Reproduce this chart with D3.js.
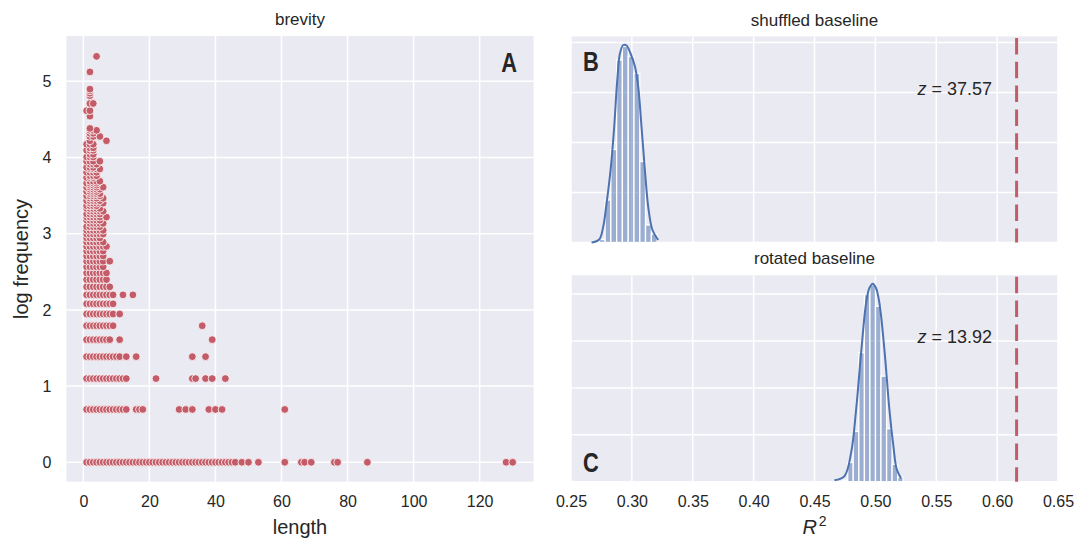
<!DOCTYPE html>
<html>
<head>
<meta charset="utf-8">
<script src="https://cdn.jsdelivr.net/npm/d3@7"></script>
<style>
  body { margin: 0; background: #fff; }
  text { font-family: "Liberation Sans", Arial, sans-serif; fill: #262626; }
</style>
</head>
<body>
<svg id="chart" width="1089" height="539"></svg>
<script>
// --- data ---

// panel A: every (length, frequency) pair, grouped by frequency count
const freqCounts = [1, 2, 3, 4, 5, 6, 7, 8, 9, 10, 11, 12, 13, 14, 15, 16, 17, 18, 19, 20,
  21, 22, 23, 24, 25, 26, 27, 28, 29, 30, 31, 32, 33, 34, 35, 36, 37, 38, 39, 40,
  42, 43, 45, 47, 48, 50, 52, 55, 57, 60, 62, 65, 68, 72, 75, 78, 80, 94, 101, 111,
  123, 127, 131, 134, 168, 206]
const lengthsByCount = [
  [1, 2, 3, 4, 5, 6, 7, 8, 9, 10, 11, 12, 13, 14, 15, 16, 17, 18, 19, 20, 21, 22, 23, 24, 25,
   26, 27, 28, 29, 30, 31, 32, 33, 34, 35, 36, 37, 38, 39, 40, 41, 42, 43, 44, 45, 46, 48, 50,
   53, 61, 66, 67, 69, 76, 77, 86, 128, 130],
  [1, 2, 3, 4, 5, 6, 7, 8, 9, 10, 11, 12, 13, 16, 17, 18, 29, 31, 33, 38, 40, 42, 61],
  [1, 2, 3, 4, 5, 6, 7, 8, 9, 10, 11, 12, 13, 22, 33, 34, 37, 39, 43],
  [1, 2, 3, 4, 5, 6, 7, 8, 9, 10, 11, 13, 16, 33, 37],
  [1, 2, 3, 4, 5, 6, 7, 8, 11, 39],
  [1, 2, 3, 4, 5, 6, 7, 8, 9, 36],
  [1, 2, 3, 4, 5, 6, 7, 8, 9, 11],
  [1, 2, 3, 4, 5, 6, 7, 8, 9],
  [1, 2, 3, 4, 5, 6, 7, 8, 9, 12, 15],
  [1, 2, 3, 4, 5, 6, 7, 8],
  [1, 2, 3, 4, 5, 6, 7],
  [1, 2, 3, 4, 5, 6, 7],
  [1, 2, 3, 4, 5, 6],
  [1, 2, 3, 4, 5, 6, 8],
  [1, 2, 3, 4, 5, 6],
  [1, 2, 3, 4, 5, 6],
  [1, 2, 3, 4, 5, 6, 7],
  [1, 2, 3, 4, 5, 6],
  [1, 2, 3, 4, 5],
  [1, 2, 3, 4, 5, 6],
  [1, 2, 3, 4, 5, 6],
  [1, 2, 3, 4, 5],
  [2, 3, 4, 5, 6],
  [1, 2, 3, 4, 5],
  [1, 2, 3, 4, 5, 7],
  [1, 2, 3, 4, 5],
  [2, 3, 4, 5, 6],
  [1, 2, 3, 4, 5],
  [1, 2, 3, 4],
  [2, 3, 4, 5, 6],
  [1, 2, 3, 4, 5],
  [2, 3, 4, 6],
  [1, 2, 3, 4, 5],
  [2, 3, 4, 5],
  [1, 2, 3, 4],
  [2, 3, 4, 5],
  [1, 2, 3, 4, 6],
  [2, 3, 4],
  [1, 2, 3, 4],
  [2, 3, 4, 5],
  [1, 2, 3],
  [2, 3, 4],
  [1, 2, 3, 4],
  [2, 3, 4, 5],
  [1, 2, 3],
  [2, 3, 4],
  [1, 2, 3, 5],
  [1, 2, 3],
  [2, 3],
  [1, 2, 3],
  [2, 3],
  [1, 2, 3],
  [2, 7],
  [2, 3, 5],
  [2, 3],
  [2, 3, 4],
  [2],
  [2],
  [1, 2],
  [2, 3],
  [2],
  [2],
  [2],
  [2],
  [2],
  [4]
]
const lengthTicks = [0, 20, 40, 60, 80, 100, 120]
const logFreqTicks = [0, 1, 2, 3, 4, 5]

// panels B and C: R^2 of the baselines (histogram density + kde)
const shuffledBinEdges = [0.2732, 0.2780, 0.2827, 0.2875, 0.2922, 0.2970, 0.3017, 0.3065, 0.3112, 0.3160, 0.3207]
const shuffledDensity = [0.6, 8.5, 18.6, 36.5, 39.2, 37.2, 33.8, 16.2, 3.5, 1.7]
const shuffledKdeX = [0.2669, 0.2732, 0.2765, 0.2792, 0.2825, 0.2853, 0.2880, 0.2902, 0.2929, 0.2956,
  0.2989, 0.3025, 0.3052, 0.3079, 0.3107, 0.3134, 0.3169, 0.3216]
const shuffledKdeY = [0.0, 0.6, 3.2, 7.8, 14.5, 22.5, 32.5, 37.8, 39.5, 39.4, 37.8, 35.2, 31.2, 23.2, 14.5, 7.2, 2.5, 0.5]

const rotatedBinEdges = [0.4727, 0.4773, 0.4818, 0.4864, 0.4910, 0.4955, 0.5001, 0.5046, 0.5092, 0.5137, 0.5183, 0.5228]
const rotatedDensity = [0.3, 4.1, 10.7, 27.5, 39.9, 42.0, 37.4, 22.5, 11.3, 3.7, 0.9]
const rotatedKdeX = [0.4664, 0.4746, 0.4801, 0.4842, 0.4883, 0.4924, 0.4951, 0.4978, 0.5005, 0.5033,
  0.5074, 0.5115, 0.5148, 0.5175, 0.5211]
const rotatedKdeY = [0.3, 1.2, 6.2, 15.4, 27.5, 38.1, 41.3, 42.2, 41.3, 38.1, 28.2, 15.4, 7.6, 2.7, 0.7]

const observedR2 = 0.616
const zScores = [37.57, 13.92]
const r2Ticks = [0.25, 0.30, 0.35, 0.40, 0.45, 0.50, 0.55, 0.60, 0.65]
const densityTicks = [0, 10, 20, 30, 40]

// --- drawing ---
const red = "#C35C68"
const blue = "#4C72B0"
const bg = "#EAEAF2"
const tickColor = "#444"

const svg = d3.select("#chart")

function drawGrid(g, x, y, xTicks, yTicks) {
    const [x0, x1] = x.range()
    const [y0, y1] = y.range()
    g.append("rect")
        .attr("x", x0).attr("y", y1)
        .attr("width", x1 - x0).attr("height", y0 - y1)
        .attr("fill", bg)
    g.selectAll(".vgrid").data(xTicks).enter().append("line")
        .attr("x1", d => x(d)).attr("x2", d => x(d))
        .attr("y1", y1).attr("y2", y0)
        .attr("stroke", "#fff").attr("stroke-width", 1.5)
    g.selectAll(".hgrid").data(yTicks).enter().append("line")
        .attr("x1", x0).attr("x2", x1)
        .attr("y1", d => y(d)).attr("y2", d => y(d))
        .attr("stroke", "#fff").attr("stroke-width", 1.5)
}

function tidyAxis(g) {
    g.select(".domain").remove()
    g.selectAll("text").attr("font-size", 16).attr("fill", tickColor)
        .attr("font-family", "Liberation Sans, Arial, sans-serif")
}

// bold panel letter, squeezed to look like a condensed face
function panelLetter(x, y, anchor, letter) {
    svg.append("text")
        .attr("transform", "translate(" + x + "," + y + ") scale(0.78,1)")
        .attr("text-anchor", anchor)
        .attr("font-weight", "bold").attr("font-size", 28).attr("fill", "#1a1a1a")
        .text(letter)
}

// panel A: brevity scatter
const xLen = d3.scaleLinear().domain([-5.1, 136.3]).range([66.5, 533.5])
const yLog = d3.scaleLinear().domain([-0.255, 5.595]).range([481.7, 36])

const gA = svg.append("g")
drawGrid(gA, xLen, yLog, lengthTicks, logFreqTicks)

const points = []
freqCounts.forEach((c, i) => {
    lengthsByCount[i].forEach(len => points.push({len: len, logf: Math.log(c)}))
})

gA.selectAll("circle").data(points).enter().append("circle")
    .attr("cx", d => xLen(d.len))
    .attr("cy", d => yLog(d.logf))
    .attr("r", 3.9)
    .attr("fill", red)
    .attr("stroke", "#fff")
    .attr("stroke-width", 0.8)

gA.append("g")
    .attr("transform", "translate(0,481.7)")
    .call(d3.axisBottom(xLen).tickValues(lengthTicks).tickSize(0).tickPadding(14).tickFormat(d3.format("d")))
    .call(tidyAxis)
gA.append("g")
    .attr("transform", "translate(66.5,0)")
    .call(d3.axisLeft(yLog).tickValues(logFreqTicks).tickSize(0).tickPadding(15).tickFormat(d3.format("d")))
    .call(tidyAxis)

gA.append("text").attr("x", 300).attr("y", 25).attr("text-anchor", "middle")
    .attr("font-size", 17).text("brevity")
gA.append("text").attr("x", 300).attr("y", 534).attr("text-anchor", "middle")
    .attr("font-size", 20).text("length")
gA.append("text").attr("transform", "translate(28,259) rotate(-90)")
    .attr("text-anchor", "middle").attr("font-size", 20).text("log frequency")
panelLetter(517, 72, "end", "A")

// panels B and C: baselines
const xR = d3.scaleLinear().domain([0.25, 0.65]).range([571, 1058])

const panels = [
    {title: "shuffled baseline", letter: "B", top: 36.5, bottom: 242.5, ymax: 41.2,
     edges: shuffledBinEdges, dens: shuffledDensity, kx: shuffledKdeX, ky: shuffledKdeY,
     z: zScores[0], letterY: 71},
    {title: "rotated baseline", letter: "C", top: 275.3, bottom: 481.7, ymax: 44.0,
     edges: rotatedBinEdges, dens: rotatedDensity, kx: rotatedKdeX, ky: rotatedKdeY,
     z: zScores[1], letterY: 472}
]

panels.forEach(p => {
    const y = d3.scaleLinear().domain([0, p.ymax]).range([p.bottom, p.top])
    const g = svg.append("g")
    drawGrid(g, xR, y, r2Ticks, densityTicks)

    g.selectAll(".bar").data(p.dens).enter().append("rect")
        .attr("x", (d, i) => xR(p.edges[i]))
        .attr("width", (d, i) => xR(p.edges[i + 1]) - xR(p.edges[i]))
        .attr("y", d => y(d))
        .attr("height", d => y(0) - y(d))
        .attr("fill", blue).attr("fill-opacity", 0.5)
        .attr("stroke", "#fff").attr("stroke-width", 1.3)

    const kde = p.kx.map((v, i) => [v, p.ky[i]])
    g.append("path")
        .datum(kde)
        .attr("fill", "none")
        .attr("stroke", blue)
        .attr("stroke-width", 2)
        .attr("d", d3.line().x(d => xR(d[0])).y(d => y(d[1])).curve(d3.curveCatmullRom))

    g.append("line")
        .attr("x1", xR(observedR2)).attr("x2", xR(observedR2))
        .attr("y1", p.top + 1.5).attr("y2", p.bottom)
        .attr("stroke", red).attr("stroke-width", 3)
        .attr("stroke-dasharray", "16.5,7.3")

    const zt = g.append("text").attr("x", xR(0.5345)).attr("y", y(29.5))
        .attr("font-family", "DejaVu Sans, sans-serif").attr("font-size", 18).attr("fill", "#3a3a3a")
    zt.append("tspan").attr("font-style", "italic").text("z")
    zt.append("tspan").text(" = " + p.z.toFixed(2))

    g.append("text").attr("x", 814.5).attr("y", p.top - 11).attr("text-anchor", "middle")
        .attr("font-size", 17).text(p.title)
    panelLetter(583, p.letterY, "start", p.letter)
})

svg.append("g")
    .attr("transform", "translate(0,481.7)")
    .call(d3.axisBottom(xR).tickValues(r2Ticks).tickSize(0).tickPadding(14).tickFormat(d3.format(".2f")))
    .call(tidyAxis)

const r2Label = svg.append("text").attr("x", 814.5).attr("y", 534)
    .attr("text-anchor", "middle").attr("font-size", 20)
    .attr("font-family", "DejaVu Sans, sans-serif")
r2Label.append("tspan").attr("font-style", "italic").text("R")
r2Label.append("tspan").attr("font-size", 14).attr("dx", 2).attr("dy", -8).text("2")
</script>
</body>
</html>
